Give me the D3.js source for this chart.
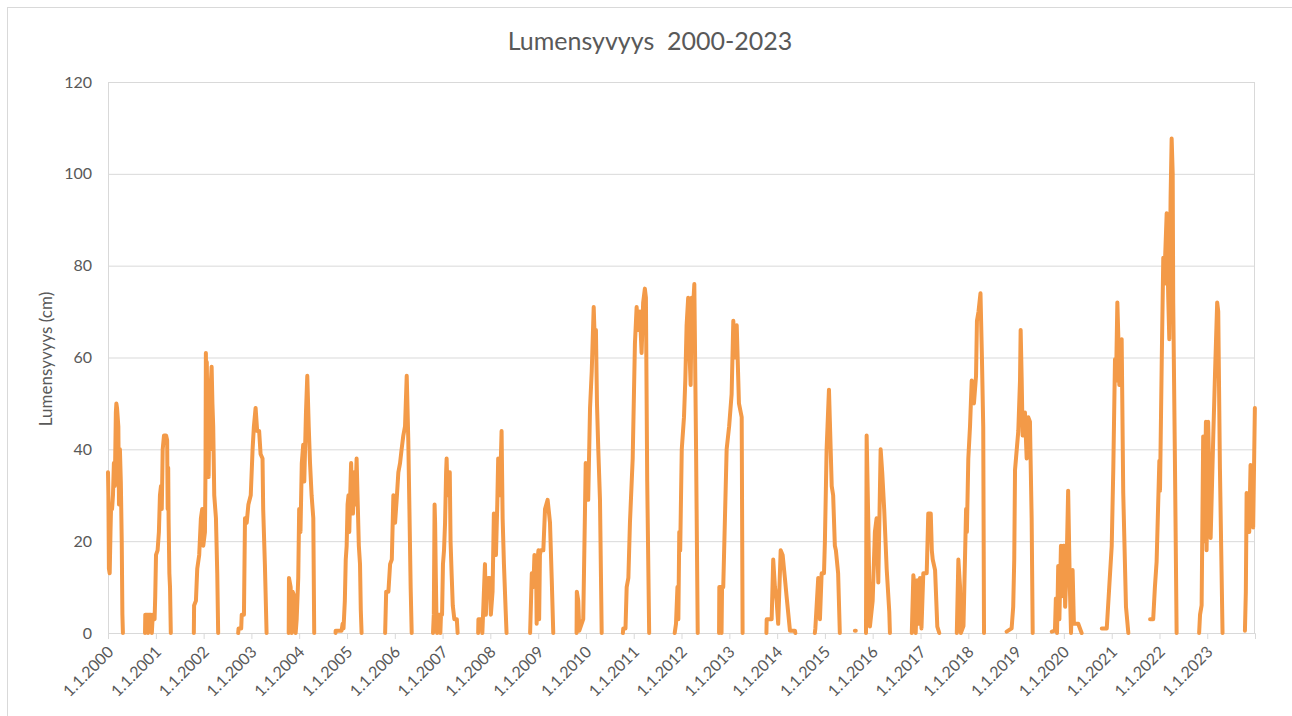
<!DOCTYPE html>
<html>
<head>
<meta charset="utf-8">
<script src="https://cdn.jsdelivr.net/npm/d3@7"></script>
<style>
  body { margin: 0; background: #fff; }
  text { font-family: Lato, "Open Sans", sans-serif; fill: #595959; }
</style>
</head>
<body>
<svg id="chart" width="1292" height="716"></svg>
<script>
// snow depth readings (cm), null = gap between winters
const snowDepth = [
  ["2000-01-01",35],["2000-01-04",30],["2000-01-08",14],["2000-01-14",13],["2000-01-20",22],["2000-01-25",28],["2000-02-01",27],["2000-02-08",30],["2000-02-15",37],["2000-02-22",32],["2000-03-01",48],["2000-03-05",50],["2000-03-10",49],["2000-03-20",45],["2000-03-25",28],["2000-04-01",40],["2000-04-08",33],["2000-04-15",20],["2000-04-20",4],["2000-04-24",0],null,
  ["2000-10-10",0],["2000-10-12",4],["2000-10-30",4],["2000-11-02",0],["2000-11-06",4],["2000-11-25",4],["2000-12-01",0],["2000-12-08",4],["2000-12-22",3],["2000-12-27",8],["2001-01-02",17],["2001-01-14",18],["2001-01-24",22],["2001-02-01",30],["2001-02-09",32],["2001-02-15",27],["2001-02-22",40],["2001-03-04",43],["2001-03-20",43],["2001-03-28",42],["2001-04-01",27],["2001-04-05",36],["2001-04-08",25],["2001-04-14",13],["2001-04-19",10],["2001-04-25",0],null,
  ["2001-10-18",0],["2001-10-20",6],["2001-11-03",7],["2001-11-13",14],["2001-11-28",17],["2001-12-11",25],["2001-12-21",27],["2001-12-29",19],["2002-01-11",22],["2002-01-15",35],["2002-01-18",61],["2002-01-22",48],["2002-01-25",59],["2002-01-28",52],["2002-02-02",40],["2002-02-08",34],["2002-02-14",48],["2002-02-20",40],["2002-02-26",55],["2002-03-03",58],["2002-03-09",50],["2002-03-15",45],["2002-03-23",30],["2002-04-05",25],["2002-04-15",13],["2002-04-22",0],null,
  ["2002-09-22",0],["2002-09-25",1],["2002-10-15",1],["2002-10-19",4],["2002-11-05",4],["2002-11-13",25],["2002-11-26",24],["2002-12-09",28],["2002-12-27",30],["2003-01-10",40],["2003-01-20",45],["2003-02-02",49],["2003-02-14",44],["2003-03-01",44],["2003-03-12",39],["2003-03-27",38],["2003-04-01",27],["2003-04-14",15],["2003-04-27",0],null,
  ["2003-10-13",0],["2003-10-15",12],["2003-10-28",10],["2003-11-05",0],["2003-11-12",9],["2003-11-25",8],["2003-12-05",0],["2003-12-13",3],["2003-12-25",12],["2004-01-01",27],["2004-01-11",22],["2004-01-21",37],["2004-02-01",41],["2004-02-09",33],["2004-02-22",48],["2004-03-03",56],["2004-03-14",45],["2004-03-24",37],["2004-04-05",30],["2004-04-18",25],["2004-04-25",0],null,
  ["2004-10-05",0],["2004-10-06",0.5],["2004-11-20",0.5],["2004-11-28",2],["2004-12-05",1],["2004-12-15",7],["2004-12-22",16],["2004-12-29",19],["2005-01-05",28],["2005-01-12",30],["2005-01-18",22],["2005-01-25",30],["2005-02-01",37],["2005-02-08",29],["2005-02-15",26],["2005-02-25",35],["2005-03-05",28],["2005-03-15",38],["2005-03-22",30],["2005-04-01",19],["2005-04-10",15],["2005-04-16",5],["2005-04-22",0],null,
  ["2005-10-19",0],["2005-10-27",9],["2005-11-13",9],["2005-11-26",15],["2005-12-09",16],["2005-12-21",30],["2006-01-03",24],["2006-01-15",29],["2006-01-28",35],["2006-02-10",37],["2006-02-22",40],["2006-03-07",43],["2006-03-20",45],["2006-04-02",56],["2006-04-14",42],["2006-04-22",28],["2006-05-02",10],["2006-05-10",0],null,
  ["2006-10-20",0],["2006-10-26",4],["2006-11-01",28],["2006-11-05",24],["2006-11-10",13],["2006-11-15",4],["2006-11-20",0],["2006-11-25",4],["2006-12-10",4],["2006-12-15",0],["2006-12-20",4],["2006-12-28",4],["2007-01-04",15],["2007-01-12",18],["2007-01-20",24],["2007-01-28",35],["2007-02-01",38],["2007-02-08",30],["2007-02-15",33],["2007-02-25",35],["2007-03-03",20],["2007-03-11",13],["2007-03-20",6],["2007-04-01",3],["2007-04-20",3],["2007-04-26",0],null,
  ["2007-09-30",0],["2007-10-02",3],["2007-10-25",3],["2007-11-01",0],["2007-11-05",3],["2007-11-21",15],["2007-11-28",4],["2007-12-03",8],["2007-12-15",12],["2007-12-29",12],["2008-01-05",4],["2008-01-18",9],["2008-01-28",26],["2008-02-13",17],["2008-02-23",28],["2008-03-01",38],["2008-03-14",30],["2008-03-27",44],["2008-04-04",25],["2008-04-14",15],["2008-04-27",5],["2008-05-04",0],null,
  ["2008-10-31",0],["2008-11-13",13],["2008-11-25",10],["2008-12-03",17],["2008-12-16",14],["2008-12-20",2],["2008-12-26",16],["2009-01-03",18],["2009-01-08",3],["2009-01-14",17],["2009-01-20",18],["2009-02-09",18],["2009-02-22",27],["2009-03-14",29],["2009-04-01",24],["2009-04-14",12],["2009-04-26",0],null,
  ["2009-10-21",0],["2009-10-23",9],["2009-11-03",7],["2009-11-11",0.5],["2009-12-11",3],["2009-12-24",26],["2009-12-30",37],["2010-01-11",35],["2010-01-18",29],["2010-02-01",49],["2010-02-14",57],["2010-03-01",71],["2010-03-11",62],["2010-03-18",66],["2010-03-26",50],["2010-04-05",40],["2010-04-18",29],["2010-05-01",0],null,
  ["2010-10-10",0],["2010-10-13",1],["2010-10-30",1],["2010-11-08",10],["2010-11-21",12],["2010-12-03",24],["2010-12-24",38],["2011-01-10",63],["2011-01-23",71],["2011-02-04",66],["2011-02-17",70],["2011-03-02",61],["2011-03-14",72],["2011-03-27",75],["2011-04-04",73],["2011-04-14",33],["2011-04-29",0],null,
  ["2011-11-10",0],["2011-11-20",2],["2011-12-01",10],["2011-12-08",3],["2011-12-15",22],["2011-12-22",18],["2012-01-03",40],["2012-01-20",47],["2012-01-30",55],["2012-02-09",67],["2012-02-21",73],["2012-03-01",62],["2012-03-11",54],["2012-03-19",73],["2012-03-28",70],["2012-04-08",76],["2012-04-21",41],["2012-05-04",0],null,
  ["2012-10-14",0],["2012-10-16",10],["2012-10-28",10],["2012-11-02",0],["2012-11-06",10],["2012-11-15",10],["2012-11-28",25],["2012-12-11",40],["2012-12-30",45],["2013-01-18",52],["2013-01-31",68],["2013-02-12",60],["2013-02-26",67],["2013-03-15",50],["2013-04-05",47],["2013-04-12",0],null,
  ["2013-10-11",0],["2013-10-13",3],["2013-11-20",3],["2013-12-02",16],["2013-12-15",10],["2013-12-28",7],["2014-01-09",2],["2014-01-28",18],["2014-02-12",17],["2014-03-01",12],["2014-03-14",8],["2014-04-09",0.5],["2014-05-17",0.5],["2014-05-20",0],null,
  ["2014-10-16",0],["2014-10-20",1],["2014-11-11",12],["2014-11-24",3],["2014-12-07",13],["2014-12-25",13],["2015-01-01",20],["2015-01-14",40],["2015-01-21",45],["2015-02-01",53],["2015-02-08",46],["2015-02-22",32],["2015-03-05",30],["2015-03-18",19],["2015-03-26",18],["2015-04-12",13],["2015-04-25",0],null,
  ["2015-08-18",0.5],["2015-08-25",0.5],null,
  ["2015-11-11",0],["2015-11-16",43],["2015-11-28",25],["2015-12-11",1.4],["2016-01-01",7],["2016-01-18",22],["2016-01-31",25],["2016-02-13",11],["2016-03-02",40],["2016-03-14",35],["2016-03-29",27],["2016-04-17",14],["2016-05-07",4.6],["2016-05-12",0],null,
  ["2016-10-26",0],["2016-11-07",12.6],["2016-11-20",8.7],["2016-11-25",0],["2016-12-07",11.5],["2016-12-14",2],["2016-12-28",12],["2017-01-08",1],["2017-01-22",13],["2017-02-17",13],["2017-03-01",26],["2017-03-20",26],["2017-03-28",18],["2017-04-04",16],["2017-04-22",13.7],["2017-05-09",1.4],["2017-05-24",0],null,
  ["2017-10-05",0],["2017-10-17",16],["2017-10-30",10],["2017-11-05",0],["2017-11-25",1.5],["2017-12-15",27],["2017-12-21",22],["2018-01-01",38],["2018-01-14",45],["2018-01-27",55],["2018-02-13",50],["2018-03-01",56],["2018-03-08",68],["2018-03-20",70],["2018-04-04",74],["2018-04-15",60],["2018-04-25",45],["2018-05-01",0],null,
  ["2018-10-21",0.3],["2018-11-28",1],["2018-12-10",5.7],["2018-12-18",16],["2018-12-24",35.5],["2019-01-18",44],["2019-01-31",55],["2019-02-05",66],["2019-02-13",55],["2019-02-20",43],["2019-03-10",48],["2019-03-23",38],["2019-04-04",47],["2019-04-17",46],["2019-04-30",25],["2019-05-08",0],null,
  ["2019-10-01",0.3],["2019-10-25",0.5],["2019-11-01",7.5],["2019-11-10",0],["2019-11-19",14.6],["2019-11-28",3],["2019-12-10",19],["2019-12-18",8],["2019-12-28",19],["2020-01-04",19],["2020-01-11",5.7],["2020-01-22",14.6],["2020-02-03",31],["2020-02-16",10],["2020-02-25",0],["2020-03-08",13.7],["2020-03-18",2],["2020-04-20",2],["2020-05-16",0],null,
  ["2020-10-17",1],["2020-11-24",1],["2020-12-13",10],["2021-01-01",19],["2021-01-13",35.7],["2021-01-26",59.6],["2021-02-03",55],["2021-02-13",72],["2021-02-20",65],["2021-02-28",54],["2021-03-18",64],["2021-03-30",30.5],["2021-04-20",5.7],["2021-05-08",0],null,
  ["2021-10-21",3],["2021-11-14",3],["2021-11-27",10],["2021-12-10",15.5],["2021-12-31",37.5],["2022-01-05",31],["2022-01-18",58.7],["2022-01-30",81.7],["2022-02-06",76],["2022-02-25",91.4],["2022-03-09",73],["2022-03-17",64],["2022-03-27",95],["2022-04-04",107.7],["2022-04-12",100],["2022-04-16",72],["2022-04-29",37.5],["2022-05-12",0],null,
  ["2022-10-31",0],["2022-11-07",4],["2022-11-19",6],["2022-12-01",42.8],["2022-12-09",20],["2022-12-22",46],["2022-12-27",18],["2023-01-08",46],["2023-01-27",20.7],["2023-02-16",42.8],["2023-03-01",56],["2023-03-18",72],["2023-03-26",70],["2023-04-08",35.7],["2023-04-28",0],null,
  ["2023-10-16",0.5],["2023-10-23",9],["2023-10-29",30.5],["2023-11-10",30],["2023-11-18",22],["2023-11-28",36.6],["2023-12-06",33],["2023-12-18",23],["2023-12-31",49]
];

const yTicks = [0, 20, 40, 60, 80, 100, 120];
const tickYears = [2000, 2001, 2002, 2003, 2004, 2005, 2006, 2007, 2008, 2009, 2010, 2011,
                   2012, 2013, 2014, 2015, 2016, 2017, 2018, 2019, 2020, 2021, 2022, 2023];

const svg = d3.select('#chart');
const plotLeft = 108, plotRight = 1255, plotTop = 82, plotBottom = 633;
const gridColor = '#d9d9d9';

// outer chart border
svg.append('rect')
    .attr('x', 7.5).attr('y', 7.5)
    .attr('width', 1290).attr('height', 720)
    .attr('fill', 'none').attr('stroke', gridColor);

const parse = d3.timeParse('%Y-%m-%d');
const x = d3.scaleTime()
    .domain([new Date(2000, 0, 1), new Date(2024, 0, 1)])
    .range([plotLeft, plotRight]);
const y = d3.scaleLinear().domain([0, 120]).range([plotBottom, plotTop]);

// horizontal gridlines + y labels
const yAxis = svg.append('g')
    .attr('transform', `translate(${plotLeft},0)`)
    .call(d3.axisLeft(y).tickValues(yTicks).tickSize(-(plotRight - plotLeft)).tickPadding(16));
yAxis.select('.domain').remove();
yAxis.selectAll('line').attr('stroke', gridColor);
yAxis.selectAll('text').style('font-size', '16px').attr('fill', '#595959');

// plot frame sides
svg.append('line').attr('x1', plotLeft + 0.5).attr('x2', plotLeft + 0.5).attr('y1', plotTop).attr('y2', plotBottom)
    .attr('stroke', gridColor);
svg.append('line').attr('x1', plotRight - 0.5).attr('x2', plotRight - 0.5).attr('y1', plotTop).attr('y2', plotBottom)
    .attr('stroke', gridColor);

// x axis with yearly ticks
const xAxis = svg.append('g')
    .attr('transform', `translate(0,${plotBottom})`)
    .call(d3.axisBottom(x)
        .tickValues(tickYears.map(yr => new Date(yr, 0, 1)))
        .tickSize(6)
        .tickSizeOuter(6)
        .tickFormat(d => '1.1.' + d.getFullYear()));
xAxis.select('.domain').attr('stroke', gridColor);
xAxis.selectAll('line').attr('stroke', gridColor);
xAxis.selectAll('text')
    .style('font-size', '16px')
    .attr('fill', '#595959')
    .attr('text-anchor', 'end')
    .attr('dy', 0)
    .attr('y', 0)
    .attr('transform', 'translate(6,20) rotate(-45)');

// snow depth line
const line = d3.line()
    .defined(d => d !== null)
    .x(d => x(parse(d[0])))
    .y(d => y(d[1]));

svg.append('path')
    .datum(snowDepth)
    .attr('d', line)
    .attr('fill', 'none')
    .attr('stroke', '#f39a48')
    .attr('stroke-width', 4)
    .attr('stroke-linejoin', 'round')
    .attr('stroke-linecap', 'round');

// title
svg.append('text')
    .attr('x', 650).attr('y', 50)
    .attr('text-anchor', 'middle')
    .style('font-size', '25px')
    .style('white-space', 'pre')
    .text('Lumensyvyys  2000-2023');

// y axis title
svg.append('text')
    .attr('transform', 'translate(52,359) rotate(-90)')
    .attr('text-anchor', 'middle')
    .style('font-size', '17px')
    .text('Lumensyvyys (cm)');
</script>
</body>
</html>
